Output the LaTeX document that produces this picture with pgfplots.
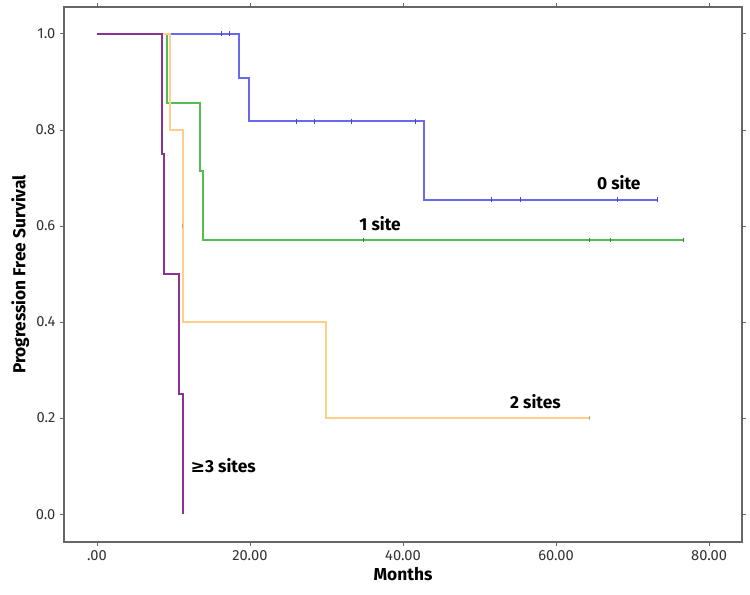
\documentclass[border=0pt]{standalone}
\usepackage{fontspec}
\setmainfont{Fira Sans}
\newfontfamily\symfont{DejaVu Sans}
\usepackage{pgfplots}
\pgfplotsset{compat=1.18}
\definecolor{cblue}{RGB}{105,105,240}
\definecolor{cgreen}{RGB}{80,190,80}
\definecolor{corange}{RGB}{255,205,140}
\definecolor{cpurple}{RGB}{140,50,150}
\begin{document}
\begin{tikzpicture}
\begin{axis}[
  scale only axis, width=508.5pt, height=401.25pt,
  xmin=-4.3, xmax=84.3, ymin=-0.058, ymax=1.056,
  axis line style={gray!80!black, line width=0.8pt},
  tick style={gray!80!black, line width=0.6pt},
  tick align=outside, major tick length=3pt,
  xtick={0,20,40,60,80}, xticklabels={.00,20.00,40.00,60.00,80.00},
  ytick={0,0.2,0.4,0.6,0.8,1.0},
  yticklabel style={/pgf/number format/fixed, /pgf/number format/fixed zerofill, /pgf/number format/precision=1},
  /pgf/number format/assume math mode=true,
  ticklabel style={font=\fontsize{11}{13}\selectfont, text=black!80},
  xlabel={\textbf{Months}}, ylabel={\textbf{Progression Free Survival}},
  label style={font=\fontsize{13}{15}\selectfont},
  xlabel style={yshift=2pt},
  ylabel style={yshift=-2pt},
  mark options={solid},
]
% 0 site
\addplot[draw=cblue, line width=1.5pt, mark=none] coordinates {(0,1)(18.6,1)(18.6,0.909)(19.9,0.909)(19.9,0.818)(42.7,0.818)(42.7,0.655)(73.2,0.655)};
% 1 site
\addplot[draw=cgreen, line width=1.5pt, mark=none] coordinates {(0,1)(9.1,1)(9.1,0.857)(13.5,0.857)(13.5,0.714)(13.9,0.714)(13.9,0.571)(76.7,0.571)};
% 2 sites
\addplot[draw=corange, line width=1.5pt, mark=none] coordinates {(0,1)(9.5,1)(9.5,0.8)(11.2,0.8)(11.2,0.4)(29.9,0.4)(29.9,0.2)(64.4,0.2)};
% >=3 sites
\addplot[draw=cpurple, line width=1.6pt, mark=none] coordinates {(0,1)(8.5,1)(8.5,0.75)(8.8,0.75)(8.8,0.5)(10.7,0.5)(10.7,0.25)(11.2,0.25)(11.2,0)};
% censor marks
\addplot[only marks, mark=|, mark size=1.8pt, mark options={draw=cblue!70!black, line width=0.6pt}] coordinates {(16.3,1)(17.3,1)(26.1,0.818)(28.4,0.818)(33.2,0.818)(41.6,0.818)(51.5,0.655)(55.4,0.655)(68.0,0.655)(73.2,0.655)};
\addplot[only marks, mark=|, mark size=1.8pt, mark options={draw=cgreen!70!black, line width=0.6pt}] coordinates {(34.8,0.571)(64.3,0.571)(67.1,0.571)(76.7,0.571)};
\addplot[only marks, mark=|, mark size=1.8pt, mark options={draw=corange!80!black, line width=0.6pt}] coordinates {(11.2,0.6)(64.4,0.2)};
\node[font=\bfseries\fontsize{13}{15}\selectfont] at (axis cs:68.2,0.690) {0 site};
\node[font=\bfseries\fontsize{13}{15}\selectfont] at (axis cs:37.0,0.604) {1 site};
\node[font=\bfseries\fontsize{13}{15}\selectfont] at (axis cs:57.3,0.235) {2 sites};
\node[font=\bfseries\fontsize{13}{15}\selectfont] at (axis cs:16.5,0.100) {{\symfont\bfseries ≥}3 sites};
\end{axis}
\pgfresetboundingbox
\path (-48pt,-39.75pt) rectangle (514.5pt,406.5pt);
\end{tikzpicture}
\end{document}
